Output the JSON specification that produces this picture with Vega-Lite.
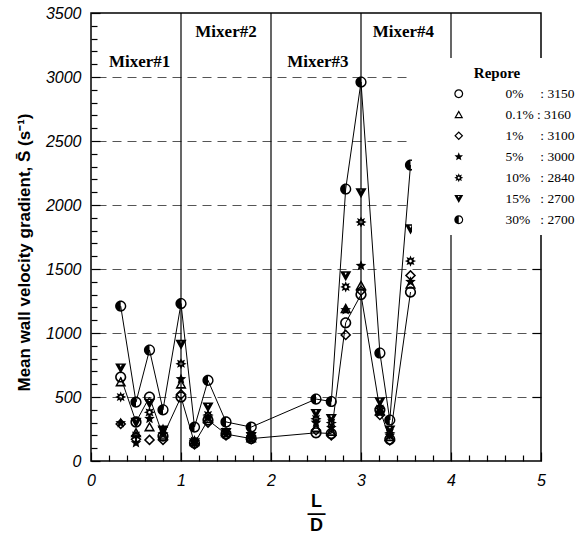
{
  "$schema": "https://vega.github.io/schema/vega-lite/v6.json",
  "width": 450,
  "height": 448,
  "autosize": {"type": "none"},
  "padding": {"left": 91, "top": 13, "right": 42, "bottom": 75},
  "background": "white",
  "config": {
    "view": {"stroke": "black", "strokeWidth": 1.5},
    "axis": {"domain": false, "tickColor": "black", "tickWidth": 1.2, "labelColor": "black", "titleColor": "black", "labelOverlap": false, "labelBound": false, "labelFlush": false}
  },
  "resolve": {"axis": {"x": "independent", "y": "independent"}},
  "datasets": {
    "pts": [
      {"x": 0.33, "y": 656, "s": "0%"}, {"x": 0.5, "y": 305, "s": "0%"}, {"x": 0.65, "y": 500, "s": "0%"}, {"x": 0.8, "y": 195, "s": "0%"}, {"x": 1.0, "y": 500, "s": "0%"}, {"x": 1.15, "y": 140, "s": "0%"}, {"x": 1.3, "y": 320, "s": "0%"}, {"x": 1.5, "y": 210, "s": "0%"}, {"x": 1.78, "y": 175, "s": "0%"}, {"x": 2.5, "y": 220, "s": "0%"}, {"x": 2.67, "y": 215, "s": "0%"}, {"x": 2.83, "y": 1080, "s": "0%"}, {"x": 3.0, "y": 1300, "s": "0%"}, {"x": 3.21, "y": 400, "s": "0%"}, {"x": 3.32, "y": 170, "s": "0%"}, {"x": 3.55, "y": 1320, "s": "0%"},
      {"x": 0.33, "y": 617, "s": "0.1%"}, {"x": 0.5, "y": 220, "s": "0.1%"}, {"x": 0.65, "y": 265, "s": "0.1%"}, {"x": 0.8, "y": 200, "s": "0.1%"}, {"x": 1.0, "y": 600, "s": "0.1%"}, {"x": 1.15, "y": 150, "s": "0.1%"}, {"x": 1.3, "y": 330, "s": "0.1%"}, {"x": 1.5, "y": 220, "s": "0.1%"}, {"x": 1.78, "y": 180, "s": "0.1%"}, {"x": 2.5, "y": 260, "s": "0.1%"}, {"x": 2.67, "y": 230, "s": "0.1%"}, {"x": 2.83, "y": 1190, "s": "0.1%"}, {"x": 3.0, "y": 1370, "s": "0.1%"}, {"x": 3.21, "y": 390, "s": "0.1%"}, {"x": 3.32, "y": 190, "s": "0.1%"}, {"x": 3.55, "y": 1380, "s": "0.1%"},
      {"x": 0.33, "y": 290, "s": "1%"}, {"x": 0.5, "y": 170, "s": "1%"}, {"x": 0.65, "y": 165, "s": "1%"}, {"x": 0.8, "y": 165, "s": "1%"}, {"x": 1.0, "y": 520, "s": "1%"}, {"x": 1.15, "y": 130, "s": "1%"}, {"x": 1.3, "y": 300, "s": "1%"}, {"x": 1.5, "y": 200, "s": "1%"}, {"x": 1.78, "y": 170, "s": "1%"}, {"x": 2.5, "y": 240, "s": "1%"}, {"x": 2.67, "y": 200, "s": "1%"}, {"x": 2.83, "y": 985, "s": "1%"}, {"x": 3.0, "y": 1330, "s": "1%"}, {"x": 3.21, "y": 360, "s": "1%"}, {"x": 3.32, "y": 160, "s": "1%"}, {"x": 3.55, "y": 1450, "s": "1%"},
      {"x": 0.33, "y": 297, "s": "5%"}, {"x": 0.5, "y": 140, "s": "5%"}, {"x": 0.65, "y": 330, "s": "5%"}, {"x": 0.8, "y": 250, "s": "5%"}, {"x": 1.0, "y": 640, "s": "5%"}, {"x": 1.15, "y": 150, "s": "5%"}, {"x": 1.3, "y": 340, "s": "5%"}, {"x": 1.5, "y": 210, "s": "5%"}, {"x": 1.78, "y": 180, "s": "5%"}, {"x": 2.5, "y": 300, "s": "5%"}, {"x": 2.67, "y": 260, "s": "5%"}, {"x": 2.83, "y": 1180, "s": "5%"}, {"x": 3.0, "y": 1525, "s": "5%"}, {"x": 3.21, "y": 380, "s": "5%"}, {"x": 3.32, "y": 200, "s": "5%"}, {"x": 3.55, "y": 1400, "s": "5%"},
      {"x": 0.33, "y": 500, "s": "10%"}, {"x": 0.5, "y": 200, "s": "10%"}, {"x": 0.65, "y": 380, "s": "10%"}, {"x": 0.8, "y": 220, "s": "10%"}, {"x": 1.0, "y": 760, "s": "10%"}, {"x": 1.15, "y": 160, "s": "10%"}, {"x": 1.3, "y": 360, "s": "10%"}, {"x": 1.5, "y": 230, "s": "10%"}, {"x": 1.78, "y": 200, "s": "10%"}, {"x": 2.5, "y": 330, "s": "10%"}, {"x": 2.67, "y": 300, "s": "10%"}, {"x": 2.83, "y": 1360, "s": "10%"}, {"x": 3.0, "y": 1867, "s": "10%"}, {"x": 3.21, "y": 410, "s": "10%"}, {"x": 3.32, "y": 220, "s": "10%"}, {"x": 3.55, "y": 1562, "s": "10%"},
      {"x": 0.33, "y": 725, "s": "15%"}, {"x": 0.5, "y": 300, "s": "15%"}, {"x": 0.65, "y": 450, "s": "15%"}, {"x": 0.8, "y": 240, "s": "15%"}, {"x": 1.0, "y": 910, "s": "15%"}, {"x": 1.15, "y": 140, "s": "15%"}, {"x": 1.3, "y": 420, "s": "15%"}, {"x": 1.5, "y": 220, "s": "15%"}, {"x": 1.78, "y": 190, "s": "15%"}, {"x": 2.5, "y": 370, "s": "15%"}, {"x": 2.67, "y": 330, "s": "15%"}, {"x": 2.83, "y": 1445, "s": "15%"}, {"x": 3.0, "y": 2094, "s": "15%"}, {"x": 3.21, "y": 460, "s": "15%"}, {"x": 3.32, "y": 240, "s": "15%"}, {"x": 3.55, "y": 1812, "s": "15%"},
      {"x": 0.33, "y": 1210, "s": "30%"}, {"x": 0.5, "y": 460, "s": "30%"}, {"x": 0.65, "y": 867, "s": "30%"}, {"x": 0.8, "y": 400, "s": "30%"}, {"x": 1.0, "y": 1230, "s": "30%"}, {"x": 1.15, "y": 265, "s": "30%"}, {"x": 1.3, "y": 630, "s": "30%"}, {"x": 1.5, "y": 305, "s": "30%"}, {"x": 1.78, "y": 265, "s": "30%"}, {"x": 2.5, "y": 484, "s": "30%"}, {"x": 2.67, "y": 465, "s": "30%"}, {"x": 2.83, "y": 2125, "s": "30%"}, {"x": 3.0, "y": 2961, "s": "30%"}, {"x": 3.21, "y": 844, "s": "30%"}, {"x": 3.32, "y": 320, "s": "30%"}, {"x": 3.55, "y": 2312, "s": "30%"}
    ],
    "mixers": [
      {"x": 0.54, "y": 3120, "label": "Mixer#1"},
      {"x": 1.5, "y": 3355, "label": "Mixer#2"},
      {"x": 2.52, "y": 3120, "label": "Mixer#3"},
      {"x": 3.47, "y": 3355, "label": "Mixer#4"}
    ],
    "dividers": [{"x": 1}, {"x": 2}, {"x": 3}, {"x": 4}]
  },
  "layer": [
    {
      "data": {"name": "dividers"},
      "mark": {"type": "rule", "color": "black", "strokeWidth": 1.2},
      "encoding": {
        "x": {"field": "x", "type": "quantitative", "scale": {"domain": [0, 5], "nice": false}, "axis": null}
      }
    },
    {
      "data": {"name": "pts"},
      "transform": [{"filter": "datum.s === '0%' || datum.s === '30%'"}],
      "mark": {"type": "line", "color": "black", "strokeWidth": 1},
      "encoding": {
        "x": {
          "field": "x", "type": "quantitative",
          "axis": {
            "orient": "bottom", "offset": -6,
            "values": [0.2, 0.4, 0.6, 0.8, 1.2, 1.4, 1.6, 1.8, 2.2, 2.4, 2.6, 2.8, 3.2, 3.4, 3.6, 3.8, 4.2, 4.4, 4.6, 4.8],
            "labels": false, "grid": false, "tickSize": 6, "title": null
          }
        },
        "y": {
          "field": "y", "type": "quantitative",
          "axis": {
            "orient": "left", "offset": -6,
            "values": [100, 200, 300, 400, 600, 700, 800, 900, 1100, 1200, 1300, 1400, 1600, 1700, 1800, 1900, 2100, 2200, 2300, 2400, 2600, 2700, 2800, 2900, 3100, 3200, 3300, 3400],
            "labels": false, "grid": false, "tickSize": 6, "title": null
          }
        },
        "detail": {"field": "s", "type": "nominal"},
        "order": {"field": "x", "type": "quantitative"}
      }
    },
    {
      "data": {"name": "pts"},
      "mark": {"type": "point", "filled": true, "size": 125, "fill": "black", "strokeWidth": 0, "opacity": 1},
      "encoding": {
        "x": {
          "field": "x", "type": "quantitative",
          "scale": {"domain": [0, 5], "nice": false},
          "axis": {
            "orient": "bottom", "offset": -9,
            "values": [0, 1, 2, 3, 4, 5],
            "format": "d",
            "tickSize": 9,
            "labelFont": "Liberation Sans", "labelFontStyle": "italic", "labelFontSize": 16, "labelPadding": 11,
            "grid": false,
            "title": ["L", "—", "D"],
            "titleFont": "Liberation Sans", "titleFontSize": 18, "titleFontWeight": "bold", "titleLineHeight": 12, "titlePadding": 4
          }
        },
        "y": {
          "field": "y", "type": "quantitative",
          "scale": {"domain": [0, 3500], "nice": false},
          "axis": {
            "orient": "left", "offset": -9,
            "values": [0, 500, 1000, 1500, 2000, 2500, 3000, 3500],
            "format": "d",
            "tickSize": 9,
            "grid": false,
            "labelFont": "Liberation Sans", "labelFontStyle": "italic", "labelFontSize": 16, "labelPadding": 10,
            "title": "Mean wall velocity gradient, S̄ (s⁻¹)",
            "titleFont": "Liberation Sans", "titleFontSize": 17, "titleFontWeight": "bold", "titlePadding": 12, "titleY": 239
          }
        },
        "shape": {
          "field": "s", "type": "nominal",
          "scale": {
            "domain": ["0%", "0.1%", "1%", "5%", "10%", "15%", "30%"],
            "range": [
              "M0,-1A1,1 0 1,1 0,1A1,1 0 1,1 0,-1Z M0,-0.72A0.72,0.72 0 1,0 0,0.72A0.72,0.72 0 1,0 0,-0.72Z",
              "M0,-1L1,0.8L-1,0.8Z M0,-0.45L-0.55,0.5L0.55,0.5Z",
              "M0,-1L1,0L0,1L-1,0Z M0,-0.62L-0.62,0L0,0.62L0.62,0Z",
              "M0,-1L0.26,-0.36L0.95,-0.31L0.43,0.14L0.59,0.81L0,0.45L-0.59,0.81L-0.43,0.14L-0.95,-0.31L-0.26,-0.36Z",
              "M0,-1L0.21,-0.51L0.71,-0.71L0.51,-0.21L1,0L0.51,0.21L0.71,0.71L0.21,0.51L0,1L-0.21,0.51L-0.71,0.71L-0.51,0.21L-1,0L-0.51,-0.21L-0.71,-0.71L-0.21,-0.51Z M0,-0.24A0.24,0.24 0 1,0 0,0.24A0.24,0.24 0 1,0 0,-0.24Z",
              "M-1,-0.85L1,-0.85L0,0.95Z M-0.2,-0.6L0,-0.2L0.2,-0.6Z",
              "M0,-1A1,1 0 0,0 0,1Z M0,-1A1,1 0 0,1 0,1L0,0.75A0.75,0.75 0 0,0 0,-0.75Z"
            ]
          },
          "legend": {
            "title": "Repore",
            "orient": "none",
            "legendX": 321,
            "legendY": 45,
            "fillColor": "white",
            "padding": 8,
            "titleFont": "Liberation Serif", "titleFontSize": 15, "titleFontWeight": "bold", "titleColor": "black",
            "titleAnchor": "middle", "titlePadding": 6,
            "labelFont": "Liberation Serif", "labelFontSize": 13.5, "labelColor": "black",
            "labelExpr": "{'0%': '0%\u00a0\u00a0\u00a0\u00a0\u00a0: 3150', '0.1%': '0.1%\u00a0: 3160', '1%': '1%\u00a0\u00a0\u00a0\u00a0\u00a0: 3100', '5%': '5%\u00a0\u00a0\u00a0\u00a0\u00a0: 3000', '10%': '10%\u00a0\u00a0\u00a0: 2840', '15%': '15%\u00a0\u00a0\u00a0: 2700', '30%': '30%\u00a0\u00a0\u00a0: 2700'}[datum.label]",
            "symbolSize": 80, "symbolFillColor": "black", "symbolStrokeWidth": 0,
            "symbolOffset": 32, "labelOffset": 40, "rowPadding": 6
          }
        }
      }
    },
    {
      "data": {"name": "mixers"},
      "mark": {"type": "text", "font": "Liberation Serif", "fontSize": 17, "fontWeight": "bold", "color": "black", "align": "center", "baseline": "middle"},
      "encoding": {
        "x": {"field": "x", "type": "quantitative", "axis": null},
        "y": {
          "field": "y", "type": "quantitative",
          "axis": {
            "orient": "right", "offset": -9,
            "values": [500, 1000, 1500, 2000, 2500, 3000],
            "labels": false, "tickSize": 9, "title": null,
            "grid": true, "gridDash": [9, 6], "gridColor": "#555", "gridWidth": 1.2
          }
        },
        "text": {"field": "label", "type": "nominal"}
      }
    }
  ]
}
